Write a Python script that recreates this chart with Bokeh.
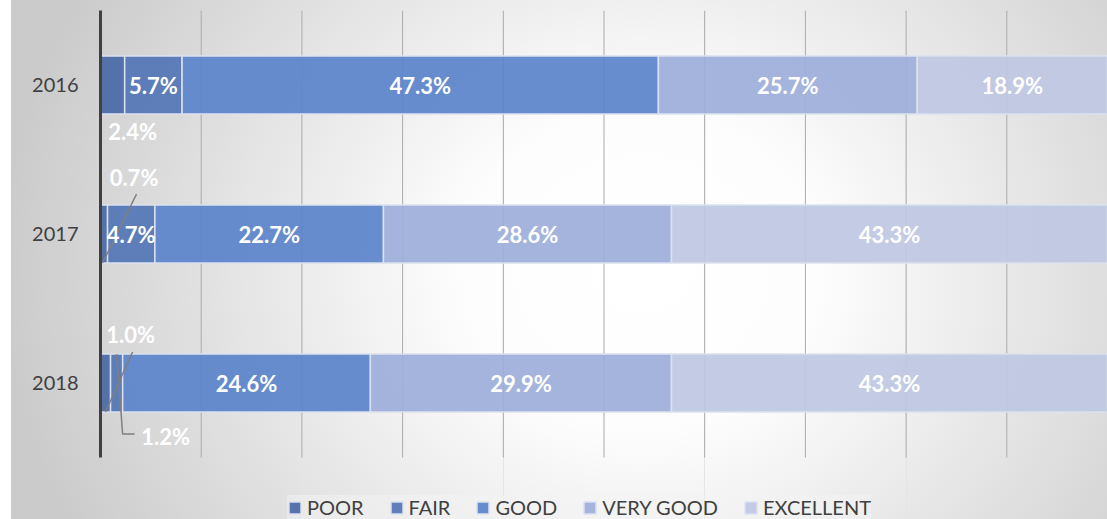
import numpy as np
from bokeh.plotting import figure
from bokeh.models import Range1d, FixedTicker, Legend, LegendItem, ColumnDataSource
from bokeh.core.properties import value
from bokeh.embed import file_html
from bokeh.resources import INLINE

# ---------------- data ----------------
years = ["2016", "2017", "2018"]
series = ["POOR", "FAIR", "GOOD", "VERY GOOD", "EXCELLENT"]
poor = [2.4, 0.7, 1.0]
fair = [5.7, 4.7, 1.2]
good = [47.3, 22.7, 24.6]
very_good = [25.7, 28.6, 29.9]
excellent = [18.9, 43.3, 43.3]
grid_ticks = [10, 20, 30, 40, 50, 60, 70, 80, 90, 100]

# ---------------- style ----------------
colors = ["#4a69a6", "#5476b6", "#5b84cb", "#9eaed9", "#bfc8e3"]
FONT = "Lato"
LEFT, TOP = 100, 10
frame_w, frame_h = 1007, 509          # frame also hosts the legend strip
PX_PER_PCT = 10.07
PX_PER_ROW = 149.0
BAR_H = 0.39
n = len(years)

# pixel offsets (label placement / leader lines) for small segments
label_offsets = {("POOR", "2016"): (20, 46), ("POOR", "2017"): (30, -57),
                 ("POOR", "2018"): (25, -49), ("FAIR", "2018"): (49, 53)}
leader_offsets = {("POOR", "2017"): [(-1.5, 29), (32.5, -40)],
                  ("POOR", "2018"): [(0, 29), (27, -31)],
                  ("FAIR", "2018"): [(0, -29), (6, 51), (18, 51)]}

p = figure(frame_width=frame_w, frame_height=frame_h,
           output_backend="svg", toolbar_location=None,
           x_range=Range1d(0, frame_w / PX_PER_PCT),
           y_range=Range1d(-0.5 + frame_h / PX_PER_ROW, -0.5),
           x_axis_location=None,
           min_border_left=LEFT, min_border_top=TOP,
           min_border_bottom=0, min_border_right=0)
p.outline_line_color = None
p.border_fill_alpha = 0
p.background_fill_alpha = 0
p.styles = {"background": "linear-gradient(to right, #ffffff 11px, rgba(255,255,255,0) 11px), "
                          "radial-gradient(ellipse 58% 110% at 58% 52%, #ffffff 0%, #fdfdfd 28%, #cbcbcb 100%)"}

p.ygrid.visible = False

ax = p.yaxis[0]
ax.ticker = FixedTicker(ticks=list(range(n)))
ax.major_label_overrides = {i: y for i, y in enumerate(years)}
ax.bounds = (-0.5, n - 0.5)
ax.axis_line_color = "#404040"
ax.axis_line_width = 3
ax.major_tick_line_color = None
ax.minor_tick_line_color = None
ax.major_tick_out = 0
ax.major_tick_in = 0
ax.major_label_standoff = 22
ax.major_label_text_font = FONT
ax.major_label_text_font_size = "20px"
ax.major_label_text_color = "#404040"

# vertical gridlines over the category band
p.segment(x0=grid_ticks, y0=[-0.5] * len(grid_ticks), x1=grid_ticks,
          y1=[n - 0.5] * len(grid_ticks), line_color="#ababab", line_width=1)

vals = np.array([poor, fair, good, very_good, excellent], dtype=float)
ys = np.arange(n)
cum = np.vstack([np.zeros(n), np.cumsum(vals, axis=0)])

items = []
lx, ly, lt, lxo, lyo = [], [], [], [], []
leader_xs, leader_ys = [], []
for si, name in enumerate(series):
    left = cum[si]
    right = cum[si + 1]
    r = p.hbar(y=ys, left=left, right=right, height=BAR_H,
               fill_color=colors[si], fill_alpha=0.93,
               line_color="#dae1f0", line_width=1.5)
    items.append(LegendItem(label=name, renderers=[r]))
    for yi, yr in enumerate(years):
        cx = (left[yi] + right[yi]) / 2
        dx, dy = label_offsets.get((name, yr), (0, 0))
        lx.append(cx); ly.append(yi); lt.append(f"{vals[si, yi]:.1f}%")
        lxo.append(dx); lyo.append(dy)
        if (name, yr) in leader_offsets:
            pts = leader_offsets[(name, yr)]
            leader_xs.append([cx + a / PX_PER_PCT for a, b in pts])
            leader_ys.append([yi + b / PX_PER_ROW for a, b in pts])

p.multi_line(xs=leader_xs, ys=leader_ys, line_color="#7f7f7f", line_width=1.5)

src = ColumnDataSource(dict(x=lx, y=ly, t=lt, xo=lxo, yo=lyo))
p.text(x="x", y="y", text="t", x_offset="xo", y_offset="yo", source=src,
       text_font=value(FONT), text_font_style="bold", text_font_size="22px",
       text_color="white", text_align="center", text_baseline="middle")

legend = Legend(items=items, orientation="horizontal", location=(187, 0),
                margin=0, padding=6, spacing=25, label_standoff=5,
                glyph_width=15, glyph_height=15,
                label_text_font=FONT, label_text_font_size="20px",
                label_text_color="#404040",
                background_fill_color="#f4f4f4", background_fill_alpha=0.5,
                border_line_color=None)
p.add_layout(legend, "center")

open("out.html", "w").write(file_html(p, INLINE))
